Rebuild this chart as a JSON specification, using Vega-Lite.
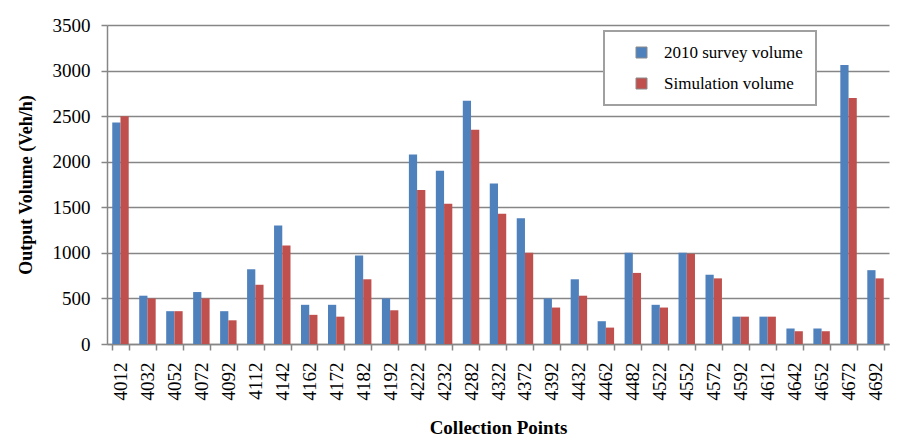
{
  "$schema": "https://vega.github.io/schema/vega-lite/v6.json",
  "autosize": "none",
  "padding": {"left": 107, "top": 25, "right": 10, "bottom": 100},
  "width": 782,
  "height": 319,
  "background": "white",
  "data": {"values": [
    {"point": "4012", "series": "2010 survey volume", "value": 2430},
    {"point": "4012", "series": "Simulation volume", "value": 2500},
    {"point": "4032", "series": "2010 survey volume", "value": 530},
    {"point": "4032", "series": "Simulation volume", "value": 500},
    {"point": "4052", "series": "2010 survey volume", "value": 360},
    {"point": "4052", "series": "Simulation volume", "value": 360},
    {"point": "4072", "series": "2010 survey volume", "value": 570},
    {"point": "4072", "series": "Simulation volume", "value": 500},
    {"point": "4092", "series": "2010 survey volume", "value": 360},
    {"point": "4092", "series": "Simulation volume", "value": 260},
    {"point": "4112", "series": "2010 survey volume", "value": 820},
    {"point": "4112", "series": "Simulation volume", "value": 650},
    {"point": "4142", "series": "2010 survey volume", "value": 1300},
    {"point": "4142", "series": "Simulation volume", "value": 1080},
    {"point": "4162", "series": "2010 survey volume", "value": 430},
    {"point": "4162", "series": "Simulation volume", "value": 320},
    {"point": "4172", "series": "2010 survey volume", "value": 430},
    {"point": "4172", "series": "Simulation volume", "value": 300},
    {"point": "4182", "series": "2010 survey volume", "value": 970},
    {"point": "4182", "series": "Simulation volume", "value": 710},
    {"point": "4192", "series": "2010 survey volume", "value": 500},
    {"point": "4192", "series": "Simulation volume", "value": 370},
    {"point": "4222", "series": "2010 survey volume", "value": 2080},
    {"point": "4222", "series": "Simulation volume", "value": 1690},
    {"point": "4232", "series": "2010 survey volume", "value": 1900},
    {"point": "4232", "series": "Simulation volume", "value": 1540},
    {"point": "4282", "series": "2010 survey volume", "value": 2670},
    {"point": "4282", "series": "Simulation volume", "value": 2350},
    {"point": "4322", "series": "2010 survey volume", "value": 1760},
    {"point": "4322", "series": "Simulation volume", "value": 1430},
    {"point": "4372", "series": "2010 survey volume", "value": 1380},
    {"point": "4372", "series": "Simulation volume", "value": 1000},
    {"point": "4392", "series": "2010 survey volume", "value": 500},
    {"point": "4392", "series": "Simulation volume", "value": 400},
    {"point": "4432", "series": "2010 survey volume", "value": 710},
    {"point": "4432", "series": "Simulation volume", "value": 530},
    {"point": "4462", "series": "2010 survey volume", "value": 250},
    {"point": "4462", "series": "Simulation volume", "value": 180},
    {"point": "4482", "series": "2010 survey volume", "value": 1000},
    {"point": "4482", "series": "Simulation volume", "value": 780},
    {"point": "4522", "series": "2010 survey volume", "value": 430},
    {"point": "4522", "series": "Simulation volume", "value": 400},
    {"point": "4552", "series": "2010 survey volume", "value": 1000},
    {"point": "4552", "series": "Simulation volume", "value": 990},
    {"point": "4572", "series": "2010 survey volume", "value": 760},
    {"point": "4572", "series": "Simulation volume", "value": 720},
    {"point": "4592", "series": "2010 survey volume", "value": 300},
    {"point": "4592", "series": "Simulation volume", "value": 300},
    {"point": "4612", "series": "2010 survey volume", "value": 300},
    {"point": "4612", "series": "Simulation volume", "value": 300},
    {"point": "4642", "series": "2010 survey volume", "value": 170},
    {"point": "4642", "series": "Simulation volume", "value": 140},
    {"point": "4652", "series": "2010 survey volume", "value": 170},
    {"point": "4652", "series": "Simulation volume", "value": 140},
    {"point": "4672", "series": "2010 survey volume", "value": 3060},
    {"point": "4672", "series": "Simulation volume", "value": 2700},
    {"point": "4692", "series": "2010 survey volume", "value": 810},
    {"point": "4692", "series": "Simulation volume", "value": 720}
  ]},
  "mark": {"type": "bar"},
  "encoding": {
    "x": {
      "field": "point", "type": "nominal", "sort": null,
      "scale": {"paddingInner": 0.39, "paddingOuter": 0.195},
      "axis": {
        "title": "Collection Points",
        "titleFontSize": 19, "titleFontWeight": "bold", "titleColor": "black",
        "titlePadding": 18,
        "labelFontSize": 19, "labelColor": "black",
        "labelAngle": -90, "labelAlign": "right", "labelBaseline": "middle",
        "labelPadding": 12,
        "tickBand": "extent", "tickSize": 6, "tickColor": "#868686", "tickWidth": 1.5,
        "domainColor": "#868686", "domainWidth": 1.5,
        "grid": false
      }
    },
    "xOffset": {"field": "series", "type": "nominal"},
    "y": {
      "field": "value", "type": "quantitative",
      "scale": {"domain": [0, 3500], "nice": false},
      "axis": {
        "title": "Output Volume (Veh/h)",
        "titleFontSize": 18, "titleFontWeight": "bold", "titleColor": "black",
        "titlePadding": 17,
        "values": [0, 500, 1000, 1500, 2000, 2500, 3000, 3500],
        "format": "d",
        "labelFontSize": 19, "labelColor": "black",
        "labelPadding": 11,
        "tickSize": 6, "tickColor": "#868686", "tickWidth": 1.5,
        "domainColor": "#868686", "domainWidth": 1.5,
        "grid": true, "gridColor": "#868686", "gridWidth": 1.5
      }
    },
    "color": {
      "field": "series", "type": "nominal",
      "scale": {"domain": ["2010 survey volume", "Simulation volume"], "range": ["#4F81BD", "#C0504D"]},
      "legend": {
        "title": null,
        "orient": "none", "legendX": 497, "legendY": 6,
        "padding": 13,
        "symbolOffset": 16,
        "symbolType": "square", "symbolSize": 121,
        "symbolStrokeColor": "#8A8A8A", "symbolStrokeWidth": 1,
        "labelFontSize": 17, "labelColor": "black",
        "labelOffset": 14,
        "rowPadding": 13,
        "strokeColor": "#A0A0A0", "fillColor": "white"
      }
    }
  },
  "config": {
    "font": "Liberation Serif",
    "view": {"stroke": null},
    "axis": {"labelFont": "Liberation Serif", "titleFont": "Liberation Serif"},
    "legend": {"strokeWidth": 2, "labelFont": "Liberation Serif"}
  }
}
